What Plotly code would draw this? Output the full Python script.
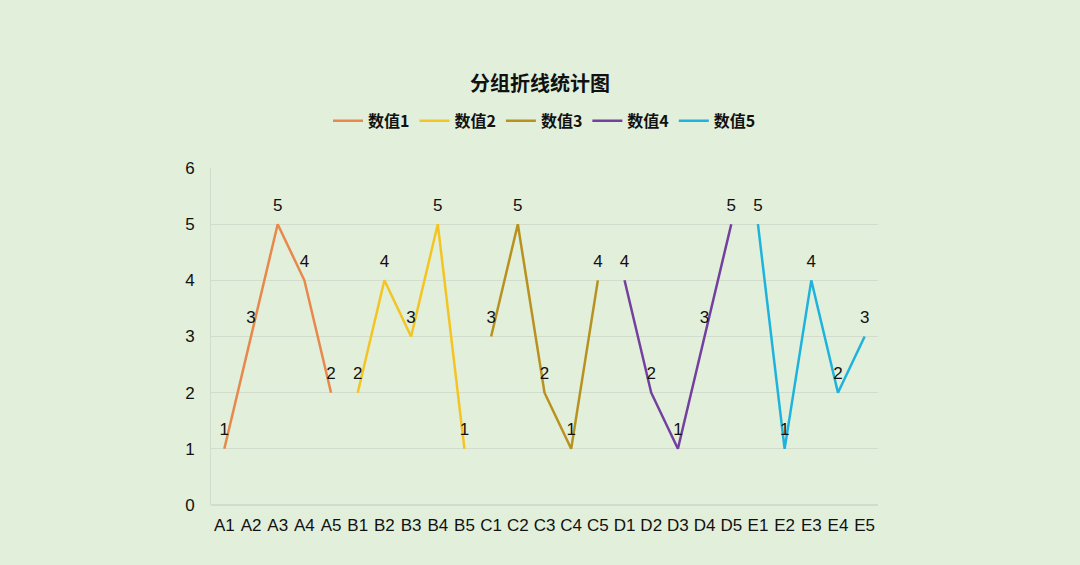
import plotly.graph_objects as go

# grouped line chart: five series, each on its own block of categories
groups = ["A", "B", "C", "D", "E"]
categories = [g + str(i) for g in groups for i in range(1, 6)]

series_names = ["数值1", "数值2", "数值3", "数值4", "数值5"]
values_1 = [1, 3, 5, 4, 2]
values_2 = [2, 4, 3, 5, 1]
values_3 = [3, 5, 2, 1, 4]
values_4 = [4, 2, 1, 3, 5]
values_5 = [5, 1, 4, 2, 3]
series_values = [values_1, values_2, values_3, values_4, values_5]

colors = ["#E8884A", "#F4C522", "#B8921E", "#7340A0", "#1DB3DE"]

FONT = "Liberation Sans, Noto Sans CJK SC"
TXT = "#111111"

fig = go.Figure()
for k, (name, vals) in enumerate(zip(series_names, series_values)):
    xs = categories[k * 5:(k + 1) * 5]
    fig.add_trace(go.Scatter(
        x=xs,
        y=vals,
        name=name,
        mode="lines+markers+text",
        text=[str(v) for v in vals],
        textposition="top center",
        textfont=dict(family=FONT, size=17, color=TXT),
        # invisible markers only to push the labels up off the line
        marker=dict(size=13, color="rgba(0,0,0,0)"),
        line=dict(color=colors[k], width=2.5),
        cliponaxis=False,
        hoverinfo="skip",
    ))

fig.update_layout(
    width=1080,
    height=565,
    paper_bgcolor="#E2EFDA",
    plot_bgcolor="#E2EFDA",
    margin=dict(l=211, r=202, t=168, b=60),
    title=dict(
        text="<b>分组折线统计图</b>",
        x=0.5, xanchor="center",
        y=0.851, yanchor="middle",
        font=dict(family="Noto Sans CJK SC", size=20, color=TXT),
    ),
    legend=dict(
        orientation="h",
        x=0.5, xanchor="center",
        y=1.14, yanchor="middle",
        font=dict(family="Noto Sans CJK SC", size=16, color=TXT, weight="bold"),
        bgcolor="rgba(0,0,0,0)",
        itemwidth=30,
        tracegroupgap=0,
    ),
    showlegend=True,
)

fig.update_xaxes(
    type="category",
    categoryorder="array",
    categoryarray=categories,
    range=[-0.5, 24.5],
    showgrid=False,
    showline=False,
    zeroline=False,
    tickfont=dict(family=FONT, size=17, color=TXT),
    ticks="",
    ticklabelstandoff=8,
)
fig.update_yaxes(
    range=[0, 6],
    dtick=1,
    showgrid=True,
    gridcolor="#D2DCCC",
    gridwidth=1,
    showline=True,
    linecolor="#D2DCCC",
    zeroline=True,
    zerolinecolor="#D2DCCC",
    tickfont=dict(family=FONT, size=17, color=TXT),
    ticks="",
    ticklabelstandoff=12,
)

fig.write_html(
    "out.html",
    config={"displayModeBar": False},
    post_script="document.body.style.margin='0';",
)
